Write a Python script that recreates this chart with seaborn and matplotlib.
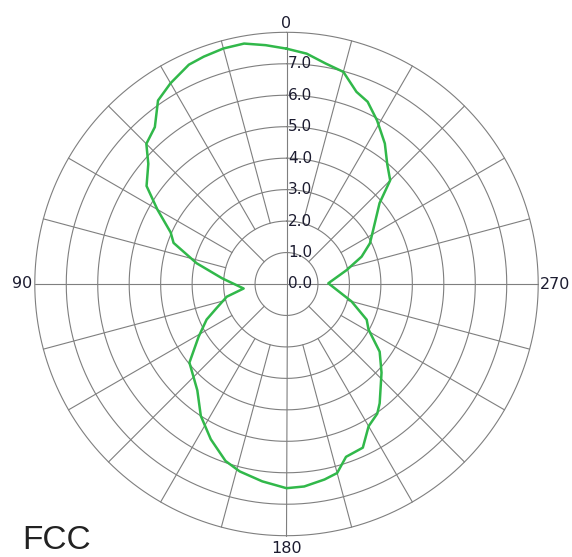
import numpy as np
import pandas as pd
import matplotlib
matplotlib.use("Agg")
import matplotlib.pyplot as plt
import seaborn as sns

# antenna pattern (degrees, value)
angles = [0, 5, 10, 15, 20, 24, 30, 35, 40, 45, 49, 55, 60, 66, 70, 77, 85, 96,
          102, 109, 114, 121, 129, 140, 147, 154, 161, 166, 173, 180, 185, 191,
          195, 199, 205, 210, 215, 218, 227, 234, 241, 246, 255, 271, 283, 290,
          296, 302, 311, 315, 320, 325, 331, 336, 340, 345, 350, 355, 360]
gain = [7.48, 7.62, 7.76, 7.75, 7.69, 7.63, 7.37, 7.12, 6.51, 6.30, 5.82, 5.43,
        4.74, 4.03, 3.82, 2.93, 2.05, 1.37, 1.94, 2.35, 2.78, 3.26, 3.97, 4.41,
        5.00, 5.49, 5.95, 6.14, 6.32, 6.49, 6.46, 6.33, 6.22, 5.81, 5.74, 5.22,
        5.03, 4.81, 4.13, 3.66, 2.98, 2.79, 2.14, 1.33, 1.96, 2.54, 2.95, 3.25,
        3.92, 4.66, 4.98, 5.45, 5.94, 6.34, 6.50, 6.98, 7.12, 7.35, 7.48]
ring_values = [1, 2, 3, 4, 5, 6, 7, 8]
ring_labels = [0, 1, 2, 3, 4, 5, 6, 7]
angle_labels = {0: "0", 90: "90", 180: "180", 270: "270"}

sns.set_theme(style="white")
plt.rcParams["font.family"] = ["DejaVu Sans"]

grid_color = "#7f7f7f"
text_color = "#1c1c30"

fig = plt.figure(figsize=(5.72, 5.57), dpi=100)
ax = fig.add_axes([34.8 / 572, 21.3 / 557, 503.4 / 572, 503.4 / 557], projection="polar")
ax.set_theta_zero_location("N")
ax.set_theta_direction(1)
ax.set_ylim(0, 8)
ax.grid(False)
ax.set_xticks([])
ax.set_yticks([])
ax.spines["polar"].set_visible(False)
ax.set_facecolor("white")

# rings
full = np.linspace(0, 2 * np.pi, 721)
for r in ring_values:
    ax.plot(full, np.full_like(full, r), color=grid_color, lw=0.8, clip_on=False, zorder=1)

# spokes every 15 degrees, shorter ones start further out
for a in range(0, 360, 15):
    if a % 90 == 0:
        r0 = 0
    elif a % 45 == 0:
        r0 = 1
    else:
        r0 = 2
    ax.plot([np.deg2rad(a)] * 2, [r0, 8], color=grid_color, lw=0.8, clip_on=False, zorder=1)

df = pd.DataFrame({"theta": np.deg2rad(angles), "gain": gain})
sns.lineplot(data=df, x="theta", y="gain", ax=ax, sort=False, color="#31b84a",
             lw=1.8, zorder=3)
ax.set_xlabel("")
ax.set_ylabel("")

# radial labels
for v in ring_labels:
    ax.annotate(f"{v:.1f}", xy=(0, v), xytext=(1, 0), textcoords="offset points",
                ha="left", va="center", fontsize=11, color=text_color, zorder=4)

# angle labels
offsets = {0: ((0, 1), "center", "bottom"), 90: ((-2, 0), "right", "center"),
           180: ((0, -4), "center", "top"), 270: ((1, 0), "left", "center")}
for a, lab in angle_labels.items():
    off, ha, va = offsets[a]
    ax.annotate(lab, xy=(np.deg2rad(a), 8), xytext=off, textcoords="offset points",
                ha=ha, va=va, fontsize=11.5, color=text_color, annotation_clip=False)

fig.text(22 / 572, 1 / 557, "FCC", fontsize=24, family="Liberation Sans",
         color="#222222", ha="left", va="bottom")

fig.savefig("out.png", dpi=100)
